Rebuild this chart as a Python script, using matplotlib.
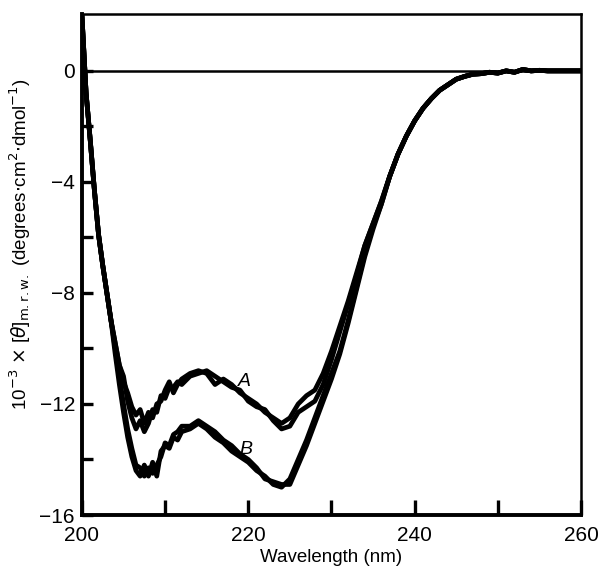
import numpy as np
import matplotlib.pyplot as plt

plt.rcParams['font.family'] = ['Liberation Sans', 'DejaVu Sans']

# wavelength grid (nm)
wl_head = [200, 200.5, 201, 201.5, 202, 202.5, 203, 203.5]
wl_mid = [204, 204.5, 205, 205.5, 206, 206.5, 207, 207.5, 208, 208.5, 209,
          209.5, 210, 210.5, 211, 211.5, 212, 213, 214, 215, 216, 217, 218,
          219, 220, 221, 222, 223, 224, 225, 226, 227, 228, 229, 230, 231,
          232, 233, 234, 235, 236]
wl_tail = [237, 238, 239, 240, 241, 242, 243, 244, 245, 246, 247, 248, 249,
           250, 251, 252, 253, 254, 255, 256, 258, 260]

# shared parts of all four traces
head = [2.0, -0.8, -2.5, -4.3, -5.9, -7.0, -8.0, -9.0]
tail = [-3.8, -3.0, -2.35, -1.8, -1.35, -1.0, -0.7, -0.5, -0.3, -0.2, -0.12,
        -0.1, -0.05, -0.08, 0.0, -0.05, 0.05, 0.0, 0.02, 0.0, 0.0, 0.0]

# curve A, two scans
A1 = [-9.8, -10.6, -11.2, -11.6, -12.1, -12.4, -12.2, -12.7, -12.3, -12.5, -12.0,
      -11.9, -11.5, -11.2, -11.6, -11.3, -11.1, -10.9, -10.8, -10.9, -11.3, -11.1,
      -11.3, -11.6, -11.8, -12.0, -12.3, -12.5, -12.7, -12.5, -12.0, -11.7, -11.5,
      -10.9, -10.1, -9.2, -8.3, -7.3, -6.3, -5.5, -4.7]
A2 = [-9.8, -10.6, -11.0, -11.9, -12.5, -12.9, -12.6, -13.0, -12.7, -12.2, -12.3,
      -11.7, -11.8, -11.4, -11.4, -11.2, -11.3, -11.0, -10.9, -10.8, -11.0, -11.2,
      -11.4, -11.5, -11.9, -12.1, -12.2, -12.6, -12.9, -12.8, -12.3, -12.1, -11.9,
      -11.3, -10.4, -9.4, -8.4, -7.4, -6.3, -5.5, -4.7]

# curve B, two scans
B1 = [-10.2, -11.3, -12.3, -13.2, -13.9, -14.4, -14.6, -14.2, -14.6, -14.1, -14.6,
      -13.7, -13.5, -13.6, -13.2, -13.3, -13.0, -12.9, -12.7, -12.9, -13.2, -13.4,
      -13.7, -13.9, -14.1, -14.4, -14.6, -14.9, -15.0, -14.7, -14.0, -13.3, -12.5,
      -11.7, -10.9, -10.1, -9.0, -7.8, -6.6, -5.6, -4.8]
B2 = [-10.0, -11.0, -12.0, -12.9, -13.6, -14.2, -14.3, -14.6, -14.3, -14.5, -14.2,
      -13.9, -13.4, -13.5, -13.1, -13.0, -12.8, -12.8, -12.6, -12.8, -13.0, -13.3,
      -13.5, -13.8, -14.0, -14.3, -14.7, -14.8, -14.9, -14.9, -14.2, -13.5, -12.7,
      -11.9, -11.1, -10.2, -9.1, -7.9, -6.7, -5.7, -4.8]

wl = wl_head + wl_mid + wl_tail

fig = plt.figure(figsize=(5.98, 5.68), dpi=100)
ax = fig.add_axes([0.137, 0.0933, 0.8346, 0.8821])

ax.axhline(0, color='black', lw=1.8, zorder=1)
for trace in (A1, A2, B1, B2):
    ax.plot(wl, head + trace + tail, color='black', lw=3.4,
            solid_joinstyle='round', solid_capstyle='round', zorder=2)

ax.text(219.5, -11.2, 'A', fontsize=14, style='italic', ha='center', va='center')
ax.text(219.7, -13.65, 'B', fontsize=14, style='italic', ha='center', va='center')

ax.set_xlim(200, 260)
ax.set_ylim(-16, 2.05)
ax.set_xticks(np.arange(200, 261, 10))
ax.set_xticklabels(['200', '', '220', '', '240', '', '260'])
ax.set_yticks(np.arange(-16, 1, 2))
ax.set_yticklabels(['\u221216', '', '\u221212', '', '\u22128', '', '\u22124', '', '0'])
ax.tick_params(axis='x', direction='in', length=11, width=2.4, labelsize=15, pad=8)
ax.tick_params(axis='y', direction='in', length=8, width=2.4, labelsize=15, pad=5)

for side in ('bottom', 'left'):
    ax.spines[side].set_linewidth(2.8)
for side in ('top', 'right'):
    ax.spines[side].set_linewidth(1.8)

ax.set_xlabel('Wavelength (nm)', fontsize=13.5, labelpad=3)
ax.set_ylabel(r'10$^{-3}$ $\times$ [$\theta$]$_{\rm m.r.w.}$ (degrees$\cdot$cm$^2$$\cdot$dmol$^{-1}$)',
              fontsize=13.5)
ax.yaxis.set_label_coords(-0.098, 0.54)

fig.savefig('out.png', dpi=100)
